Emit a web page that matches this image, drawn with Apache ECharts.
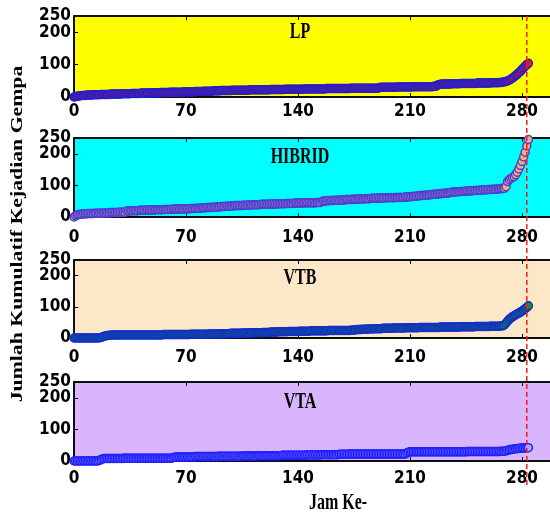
<!DOCTYPE html>
<html>
<head>
<meta charset="utf-8">
<script src="https://cdn.jsdelivr.net/npm/echarts@6/dist/echarts.min.js"></script>
<style>html,body{margin:0;padding:0;background:#fff}#c{width:550px;height:515px}</style>
</head>
<body>
<div id="c"></div>
<script>
// ---- data (cumulative counts per hour, hour 0..284) ----
const panelTitles = ['LP', 'HIBRID', 'VTB', 'VTA'];
const xTickLabels = [0, 70, 140, 210, 280];
const yTickLabels = [0, 100, 200];
const yTopLabel = [250];
const markerHour = 283;

const lpValues = [
0,1,2,3,4,5,5,5,6,6,6,6,7,7,7,7,7,8,8,8,
8,8,8,9,9,9,9,9,9,9,10,10,10,10,10,10,11,11,11,11,
11,11,12,12,12,12,12,12,13,13,13,13,13,13,14,14,14,14,14,14,
15,15,15,15,15,15,15,15,15,16,16,16,16,16,16,16,17,17,17,17,
17,18,18,18,18,18,18,19,19,19,19,19,20,20,20,20,20,20,20,21,
21,21,21,21,21,21,21,21,21,21,22,22,22,22,22,22,22,22,22,22,
22,22,22,23,23,23,23,23,23,23,23,23,24,24,24,24,24,24,24,24,
24,24,24,24,25,25,25,25,25,25,25,25,25,25,25,25,25,25,26,26,
26,26,26,26,26,26,26,26,26,26,26,26,26,27,27,27,27,27,27,27,
27,27,27,27,27,27,27,27,27,27,27,29,30,30,30,30,30,30,30,30,
30,30,31,31,31,31,31,31,31,31,31,31,32,32,32,32,32,32,32,32,
32,32,32,32,32,33,33,36,38,39,40,40,40,40,40,40,41,41,41,41,
41,41,42,42,42,42,42,42,42,42,42,42,43,43,43,43,43,43,43,43,
43,44,44,44,44,44,45,45,46,47,48,50,52,55,58,62,66,70,75,79,
85,90,95,100,104];

const hibridValues = [
0,4,6,8,9,9,10,10,10,11,11,11,11,12,12,12,12,12,13,13,
13,13,13,14,14,14,14,14,15,15,15,15,15,19,19,19,20,20,20,20,
20,21,21,21,21,21,22,22,22,22,22,23,23,23,23,23,24,24,24,24,
24,24,25,25,25,25,25,25,25,26,26,26,26,27,27,27,27,28,28,28,
29,29,29,30,30,30,31,31,31,32,32,32,33,33,33,34,34,34,35,35,
35,36,36,36,36,36,37,37,37,38,38,38,38,39,39,39,39,40,40,40,
40,40,40,41,41,41,41,41,42,42,42,42,42,43,43,43,43,43,44,44,
44,44,44,44,45,45,45,45,45,45,45,45,46,46,46,49,51,51,51,52,
52,52,52,53,53,53,53,54,54,54,55,55,55,55,56,56,56,56,57,57,
57,57,58,58,58,58,59,59,59,59,60,60,60,60,60,61,61,61,61,61,
61,62,62,62,62,62,62,63,63,64,64,65,65,66,66,67,67,68,68,69,
69,70,70,71,71,72,72,73,73,74,74,75,75,76,76,77,78,79,79,80,
80,80,81,81,81,82,82,82,83,83,84,84,84,85,85,85,86,86,86,87,
87,87,88,88,88,89,89,90,90,91,96,112,118,122,125,128,134,142,152,163,
176,190,205,225,245];

const vtbValues = [
0,0,0,0,0,0,0,0,0,0,0,0,0,0,0,0,1,2,4,6,
7,8,9,9,10,10,10,10,10,10,10,10,10,10,10,10,10,10,10,10,
10,10,10,10,10,10,10,10,10,10,10,10,10,10,10,10,11,11,11,11,
11,11,11,11,11,11,11,11,11,11,11,11,11,12,12,12,12,12,12,12,
12,12,12,12,13,13,13,13,13,13,13,14,14,14,14,14,14,14,15,15,
15,15,15,15,15,16,16,16,16,16,16,17,17,17,17,17,17,17,18,18,
18,18,18,19,19,19,19,19,20,20,20,20,20,20,21,21,21,21,21,21,
21,22,22,22,22,22,22,22,23,23,23,23,23,23,23,23,23,23,23,24,
24,24,24,24,24,24,24,24,24,24,24,24,24,25,25,26,26,27,27,27,
28,28,28,28,29,29,29,29,30,30,30,30,30,31,31,31,31,31,31,31,
32,32,32,32,32,32,32,32,33,33,33,33,33,33,33,33,34,34,34,34,
34,34,34,34,34,34,34,34,34,35,35,35,35,35,35,35,35,35,35,35,
35,36,36,36,36,36,36,36,36,36,36,37,37,37,37,37,37,37,37,37,
38,38,38,38,38,38,38,39,39,42,48,54,60,64,68,71,74,77,80,83,
86,90,94,98,103];

const vtaValues = [
0,0,0,0,0,0,0,0,0,0,0,0,0,0,0,0,2,5,7,8,
8,8,8,8,8,8,8,8,8,8,8,9,9,9,9,9,9,9,9,9,
9,9,9,9,9,9,9,9,9,9,9,9,9,9,9,9,9,9,9,9,
9,9,11,12,13,13,13,13,13,13,13,13,13,13,13,13,14,14,14,14,
14,14,14,14,14,14,14,14,14,14,15,15,15,15,15,15,15,15,15,15,
15,15,15,15,15,16,16,16,16,16,16,16,16,16,16,17,17,17,17,17,
17,17,17,17,17,17,17,17,17,17,18,18,18,18,18,18,18,18,18,18,
18,18,18,18,18,19,19,19,19,19,19,19,19,19,19,20,20,20,20,20,
20,20,20,20,20,20,21,21,21,21,21,21,22,22,22,22,22,22,22,22,
22,22,22,22,22,22,22,22,22,22,22,22,22,22,22,22,22,22,22,22,
22,22,22,22,22,22,22,22,25,28,29,29,29,29,29,29,29,29,29,29,
29,29,29,29,29,29,29,29,29,29,29,29,29,29,29,29,29,29,29,29,
29,29,29,29,29,29,30,30,30,30,30,30,30,30,30,30,30,30,30,30,
30,30,30,30,30,30,30,31,31,31,32,34,35,36,37,38,39,39,40,40,
41,41,41,42,42];

const seriesValues = [lpValues, hibridValues, vtbValues, vtaValues];

// ---- styles ----
const bgColors = ['#ffff00', '#00ffff', '#fce8c9', '#d9b5fd'];
const fillColors = ['#e31818', '#f8ae6c', '#1f8a2c', '#a8a8ff'];
const edgeColors = ['#2020d0', '#4a3ed8', '#1030c8', '#2020ff'];
const gridTops = [16, 138, 260, 382];
const gridHeights = [81, 79, 78, 79];
const xLabelMargins = [6, 12, 11, 9];
const titleY = [32, 157, 278, 402];
const tickFont = "'Liberation Sans Narrow','DejaVu Sans Condensed','Arial Narrow',sans-serif";
const serifFont = "'Liberation Serif','Times New Roman',serif";

const grids = [], xAxes = [], yAxes = [], series = [];
for (let i = 0; i < 4; i++) {
  grids.push({left: 74, top: gridTops[i], width: 480, height: gridHeights[i], show: true,
    backgroundColor: bgColors[i], borderColor: '#000', borderWidth: 1.5, containLabel: false, outerBoundsMode: 'none'});
  const xBase = {gridIndex: i, type: 'value', min: 0, max: 300, splitLine: {show: false},
    axisLine: {show: true, onZero: false, lineStyle: {color: '#000', width: 1.5}},
    axisTick: {show: true, inside: true, length: 4, customValues: [70, 140, 210, 280], lineStyle: {color: '#000'}}};
  xAxes.push(Object.assign({}, xBase, {position: 'bottom',
    axisLabel: {show: true, customValues: xTickLabels, margin: xLabelMargins[i], color: '#000', fontWeight: 'bold', fontSize: 17, fontFamily: tickFont}}));
  xAxes.push(Object.assign({}, xBase, {position: 'top', axisLabel: {show: false}}));
  const yBase = {gridIndex: i, type: 'value', min: 0, max: 250, splitLine: {show: false},
    axisLine: {show: true, onZero: false, lineStyle: {color: '#000', width: 1.5}},
    axisTick: {show: true, inside: true, length: 4, customValues: [100, 200], lineStyle: {color: '#000'}}};
  const yLabelStyle = {show: true, margin: 3, color: '#000', fontWeight: 'bold', fontSize: 17, fontFamily: tickFont};
  yAxes.push(Object.assign({}, yBase, {position: 'left',
    axisLabel: Object.assign({customValues: yTickLabels}, yLabelStyle)}));
  yAxes.push(Object.assign({}, yBase, {position: 'right', offset: -4, axisLine: {show: false},
    axisTick: {show: true, inside: true, length: 3, customValues: [100, 200], lineStyle: {color: '#000'}}, axisLabel: {show: false}}));
  yAxes.push(Object.assign({}, yBase, {position: 'left', axisLine: {show: false}, axisTick: {show: false},
    axisLabel: Object.assign({customValues: yTopLabel}, yLabelStyle)}));
  const vals = seriesValues[i];
  series.push({type: 'scatter', xAxisIndex: 2 * i, yAxisIndex: 3 * i, clip: false,
    symbol: 'circle', symbolSize: 8,
    itemStyle: {color: fillColors[i], borderColor: edgeColors[i], borderWidth: 1.5, opacity: 1},
    emphasis: {disabled: true}, animation: false,
    data: vals.map((v, h) => [h, v])});
}

const chart = echarts.init(document.getElementById('c'), null, {renderer: 'canvas'});
chart.setOption({animation: false, backgroundColor: '#fff', grid: grids, xAxis: xAxes, yAxis: yAxes, series: series});

const lineX = chart.convertToPixel({xAxisIndex: 0}, markerHour);
const lineTop = chart.convertToPixel({yAxisIndex: 0}, 250);
const lineBottom = chart.convertToPixel({yAxisIndex: 9}, 0) + 26;

const graphics = [{type: 'line', z: 50, shape: {x1: lineX, y1: lineTop, x2: lineX, y2: lineBottom},
  style: {stroke: '#ff1a1a', lineWidth: 1.5, lineDash: [5, 3]}}];
panelTitles.forEach((t, i) => {
  graphics.push({type: 'text', z: 60, x: 300, y: titleY[i], scaleY: 1.4,
    style: {text: t, fontSize: 16, fontWeight: 'bold', fontFamily: serifFont, fill: '#000', align: 'center', verticalAlign: 'middle'}});
});
graphics.push({type: 'text', z: 60, x: 18, y: 234, rotation: Math.PI / 2, scaleX: 1.36,
  style: {text: 'Jumlah Kumulatif Kejadian Gempa', fontSize: 16, fontWeight: 'bold', fontFamily: serifFont, fill: '#000', align: 'center', verticalAlign: 'middle'}});
graphics.push({type: 'text', z: 60, x: 338, y: 503, scaleY: 1.4,
  style: {text: 'Jam Ke-', fontSize: 16, fontWeight: 'bold', fontFamily: serifFont, fill: '#000', align: 'center', verticalAlign: 'middle'}});
chart.setOption({graphic: graphics});
</script>
</body>
</html>
